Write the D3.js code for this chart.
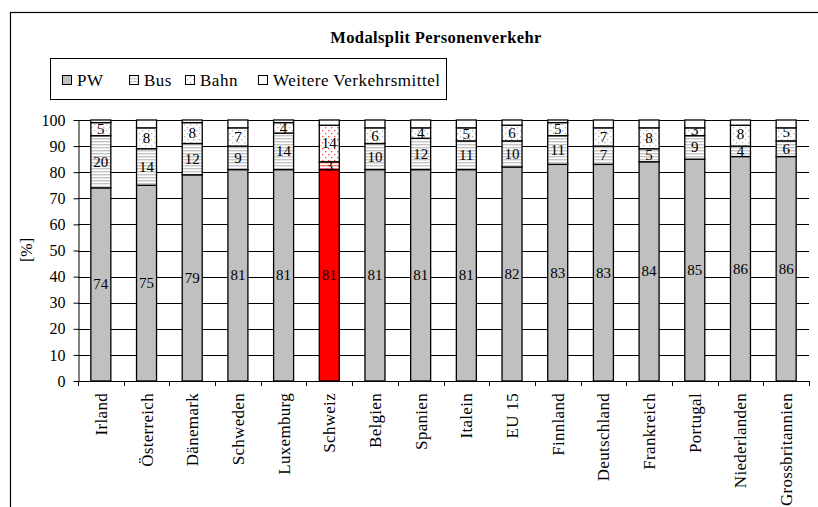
<!DOCTYPE html>
<html>
<head>
<meta charset="utf-8">
<script src="https://cdn.jsdelivr.net/npm/d3@7"></script>
<style>
  body { margin: 0; background: #fff; }
  #chart text { font-family: "Liberation Serif", "Times New Roman", "DejaVu Serif", serif !important; }
</style>
</head>
<body>
<svg id="chart" width="818" height="507" font-family="Liberation Serif"></svg>
<script>
var categories = ["Irland","Österreich","Dänemark","Schweden","Luxemburg","Schweiz","Belgien","Spanien","Italein","EU 15","Finnland","Deutschland","Frankreich","Portugal","Niederlanden","Grossbritannien"]
var pw      = [74,75,79,81,81,81,81,81,81,82,83,83,84,85,86,86]
var bus     = [20,14,12, 9,14, 3,10,12,11,10,11, 7, 5, 9, 4, 6]
var bahn    = [ 5, 8, 8, 7, 4,14, 6, 4, 5, 6, 5, 7, 8, 3, 8, 5]
var weitere = [ 1, 3, 1, 3, 1, 2, 3, 3, 3, 2, 1, 3, 3, 3, 2, 3]
var seriesNames = ["PW","Bus","Bahn","Weitere Verkehrsmittel"]
var yTicks = [0,10,20,30,40,50,60,70,80,90,100]
var highlight = "Schweiz"

var svg = d3.select("#chart")
var defs = svg.append("defs")

// fill patterns, grey ones and red ones for the highlighted bar
function stripes(id, col){
	var p = defs.append("pattern").attr("id",id).attr("patternUnits","userSpaceOnUse").attr("width",4).attr("height",3)
	p.append("rect").attr("width",4).attr("height",3).attr("fill","#fff")
	p.append("rect").attr("width",4).attr("height",1.4).attr("fill",col)
}
function dots(id, col){
	var p = defs.append("pattern").attr("id",id).attr("patternUnits","userSpaceOnUse").attr("width",6).attr("height",6)
	p.append("rect").attr("width",6).attr("height",6).attr("fill","#fff")
	p.append("rect").attr("x",1).attr("y",1).attr("width",1.3).attr("height",1.3).attr("fill",col)
	p.append("rect").attr("x",4).attr("y",4).attr("width",1.3).attr("height",1.3).attr("fill",col)
}
stripes("busGrey","#c4c4c4")
dots("bahnGrey","#b8b8b8")
stripes("busRed","#ff7070")
dots("bahnRed","#ff4040")

var fills = ["#c0c0c0","url(#busGrey)","url(#bahnGrey)","#fff"]
var fillsRed = ["#ff0000","url(#busRed)","url(#bahnRed)","#fff"]

// outer frame
svg.append("rect").attr("x",10.5).attr("y",12.5).attr("width",830).attr("height",520)
	.attr("fill","none").attr("stroke","#000").attr("stroke-width",1.2)

svg.append("text").attr("x",436).attr("y",43).attr("text-anchor","middle")
	.style("font-size","16.5px").style("font-weight","bold").style("letter-spacing","0.4px")
	.text("Modalsplit Personenverkehr")

// legend
var lg = svg.append("g")
lg.append("rect").attr("x",50.5).attr("y",58.5).attr("width",396).attr("height",41)
	.attr("fill","#fff").attr("stroke","#000")
var lx = [62,129,185,258]
seriesNames.forEach(function(s,i){
	lg.append("rect").attr("x",lx[i]+0.5).attr("y",75.5).attr("width",9).attr("height",9)
		.attr("fill",fills[i]).attr("stroke","#000")
	lg.append("text").attr("x",lx[i]+15).attr("y",86).style("font-size","17px").style("letter-spacing","0.5px").text(s)
})

var x = d3.scaleBand().domain(categories).range([78,809]).padding(0)
var y = d3.scaleLinear().domain([0,100]).range([381,120])
var barW = 20

// gridlines
svg.append("g").selectAll("line").data(yTicks.filter(d => d > 0)).join("line")
	.attr("x1",78).attr("x2",809)
	.attr("y1",d => Math.round(y(d))+0.5).attr("y2",d => Math.round(y(d))+0.5)
	.attr("stroke","#000").attr("stroke-width",1)

// stacked bars
var stackData = categories.map(function(c,i){
	return {cat:c, PW:pw[i], Bus:bus[i], Bahn:bahn[i], W:weitere[i]}
})
var stack = d3.stack().keys(["PW","Bus","Bahn","W"])(stackData)

// label y per layer, bahn label pushed up a bit if it would touch the bus label
var labelY = stack.slice(0,3).map(layer => layer.map(d => y((d[0]+d[1])/2) + 5))
labelY[2] = labelY[2].map((v,i) => Math.min(v, labelY[1][i] - 17))

stack.forEach(function(layer,k){
	var g = svg.append("g")
	g.selectAll("rect").data(layer).join("rect")
		.attr("x",d => x(d.data.cat) + x.bandwidth()/2 - barW/2)
		.attr("y",d => y(d[1]))
		.attr("width",barW)
		.attr("height",d => y(d[0]) - y(d[1]))
		.attr("fill",d => d.data.cat == highlight ? fillsRed[k] : fills[k])
		.attr("stroke","#000").attr("stroke-width",1.3)
	if(k < 3){
		g.selectAll("text").data(layer).join("text")
			.attr("x",d => x(d.data.cat) + x.bandwidth()/2)
			.attr("y",(d,i) => labelY[k][i])
			.attr("text-anchor","middle")
			.style("font-size","15px")
			.text(d => d[1]-d[0])
	}
})

// y axis
var yAxis = svg.append("g").attr("transform","translate(78.5,0)")
	.call(d3.axisLeft(y).tickValues(yTicks).tickSize(5).tickSizeOuter(0))
yAxis.attr("font-family",null)
yAxis.select(".domain").attr("stroke","#000")
yAxis.selectAll("text").style("font-size","16px").attr("fill","#000").attr("x",-13)

// x axis: ticks between categories
var xa = svg.append("g")
xa.append("line").attr("x1",78).attr("x2",809).attr("y1",381.5).attr("y2",381.5).attr("stroke","#000")
xa.selectAll("line.t").data(d3.range(categories.length+1)).join("line").attr("class","t")
	.attr("x1",i => Math.round(78 + i*x.step())+0.5).attr("x2",i => Math.round(78 + i*x.step())+0.5)
	.attr("y1",381).attr("y2",386).attr("stroke","#000")
xa.selectAll("text").data(categories).join("text")
	.attr("transform",d => "translate(" + (x(d)+x.bandwidth()/2+6) + ",393) rotate(-90)")
	.attr("text-anchor","end")
	.style("font-size","17px").style("letter-spacing","0.3px")
	.text(d => d)

svg.append("text").attr("transform","translate(32,250) rotate(-90)").attr("text-anchor","middle")
	.style("font-size","16px").text("[%]")
</script>
</body>
</html>
